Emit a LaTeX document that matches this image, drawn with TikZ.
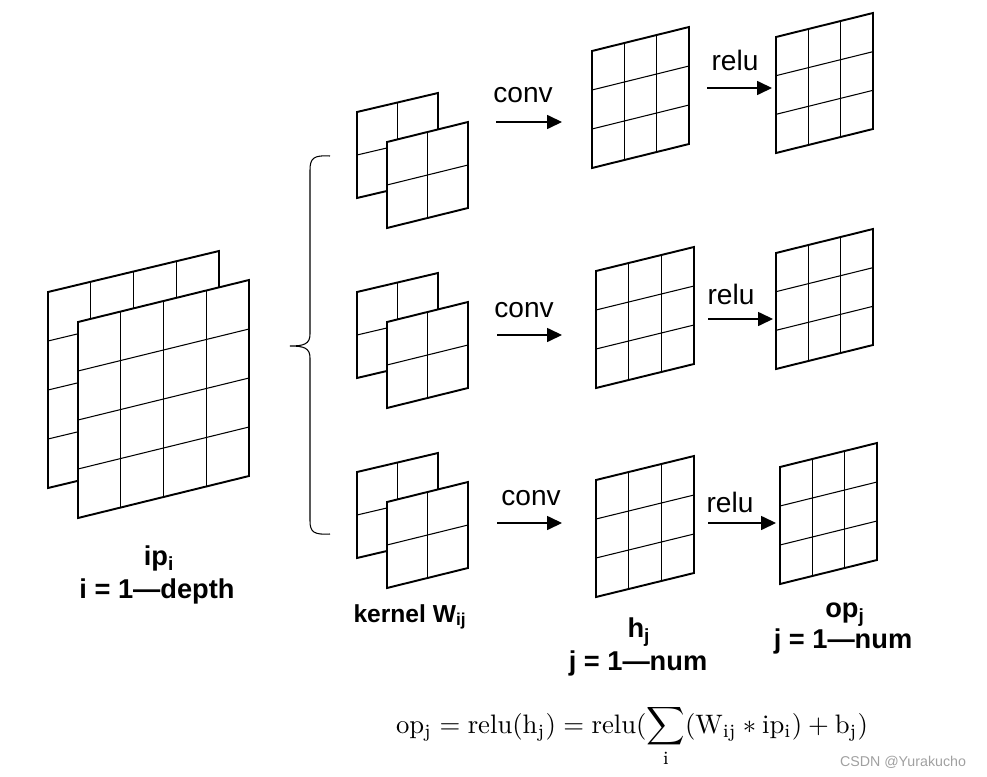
\documentclass[tikz,border=0pt]{standalone}
\usepackage{fontspec}
\usepackage{amsmath}
\usepackage{graphicx}
\usepackage{tikz}
\usetikzlibrary{arrows.meta}
\newfontfamily\diagfont{Liberation Sans}
\definecolor{wmgray}{HTML}{A0A0A0}

% sheet: top-left x, top-left y, width, height, rise of right edge, cells
\newcommand{\gridsheet}[6]{%
  \fill[white] (#1,#2) -- ++(#3,-#5) -- ++(0,#4) -- ++(-#3,#5) -- cycle;
  \pgfmathtruncatemacro{\lastcell}{#6-1}
  \foreach \k in {1,...,\lastcell} {
    \draw[gridline] ({#1+\k*#3/#6},{#2-\k*#5/#6}) -- ++(0,#4);
    \draw[gridline] (#1,{#2+\k*#4/#6}) -- ++(#3,-#5);
  }
  \draw[sheetedge] (#1,#2) -- ++(#3,-#5) -- ++(0,#4) -- ++(-#3,#5) -- cycle;
}

\begin{document}
\begin{tikzpicture}[x=0.02cm, y=-0.02cm,
  sheetedge/.style={line width=1.1pt, line join=miter},
  gridline/.style={line width=0.6pt},
  flow/.style={line width=0.7pt, -{Triangle[length=8.5pt, width=8pt]}},
  optext/.style={font=\diagfont\fontsize{16}{19}\selectfont, inner sep=0pt, anchor=base},
  dimtext/.style={font=\diagfont\bfseries\fontsize{15.5}{18}\selectfont, inner sep=0pt, anchor=base},
  formula/.style={inner sep=0pt, anchor=base},
  wmark/.style={font=\diagfont\fontsize{8.1}{10}\selectfont, text=wmgray, inner sep=0pt, anchor=base},
]
\useasboundingbox (0,0) rectangle (987,777);

% input maps
\gridsheet{48}{292}{171}{196}{41}{4}
\gridsheet{78}{322}{171}{196}{42}{4}

% kernels
\gridsheet{357}{112}{81}{86}{19}{2}
\gridsheet{387}{142}{81}{86}{20}{2}
\gridsheet{357}{292}{81}{86}{19}{2}
\gridsheet{387}{322}{81}{86}{20}{2}
\gridsheet{357}{472}{81}{86}{19}{2}
\gridsheet{387}{502}{81}{86}{20}{2}

% hidden maps
\gridsheet{592}{51}{97}{117}{24}{3}
\gridsheet{596}{271}{98}{117}{24}{3}
\gridsheet{596}{480}{98}{117}{24}{3}

% output maps
\gridsheet{776}{37}{97}{116}{24}{3}
\gridsheet{776}{253}{97}{116}{24}{3}
\gridsheet{780}{467}{97}{117}{24}{3}

% brace
\draw[line width=0.6pt] (330,156) .. controls (314,155) and (310,158) .. (310,170)
  -- (310,334) .. controls (310,344) and (304,346) .. (290,346)
  .. controls (304,346) and (310,348) .. (310,358)
  -- (310,521) .. controls (310,532) and (314,535) .. (330,534);

% arrows
\coordinate (convA1) at (496,122);
\coordinate (convA2) at (562,122);
\coordinate (convB1) at (497,335);
\coordinate (convB2) at (562,335);
\coordinate (convC1) at (497,523);
\coordinate (convC2) at (562,523);
\coordinate (reluA1) at (707,88);
\coordinate (reluA2) at (772,88);
\coordinate (reluB1) at (708,319);
\coordinate (reluB2) at (773,319);
\coordinate (reluC1) at (708,523);
\coordinate (reluC2) at (776,523);

\draw[flow] (convA1) -- (convA2);
\draw[flow] (convB1) -- (convB2);
\draw[flow] (convC1) -- (convC2);
\draw[flow] (reluA1) -- (reluA2);
\draw[flow] (reluB1) -- (reluB2);
\draw[flow] (reluC1) -- (reluC2);

\node[optext] (convA) at (523,103) {conv};
\node[optext] (convB) at (524,317) {conv};
\node[optext] (convC) at (531,505) {conv};
\node[optext] (reluA) at (735,71) {relu};
\node[optext] (reluB) at (731,304) {relu};
\node[optext] (reluC) at (730,512) {relu};

% labels
\node[dimtext] (ipname) at (159,565) {ip\textsubscript{i}};
\node[dimtext] (iprange) at (157,598) {i = 1—depth};
\node[dimtext, font=\diagfont\bfseries\fontsize{14}{17}\selectfont] (kname) at (410,622) {kernel W\textsubscript{ij}};
\node[dimtext] (hname) at (639,637) {h\textsubscript{j}};
\node[dimtext] (hrange) at (638,670) {j = 1—num};
\node[dimtext] (opname) at (845,617) {op\textsubscript{j}};
\node[dimtext] (oprange) at (843,648) {j = 1—num};

\node[formula] (eq) at (632,733)
  {\scalebox{1.52}{$\displaystyle \mathrm{op_j} = \mathrm{relu}(\mathrm{h_j}) = \mathrm{relu}(\sum_{\mathrm{i}} (\mathrm{W_{ij}} \ast \mathrm{ip_i}) + \mathrm{b_j})$}};

\node[wmark] (wm) at (903,766) {CSDN @Yurakucho};

\end{tikzpicture}
\end{document}
